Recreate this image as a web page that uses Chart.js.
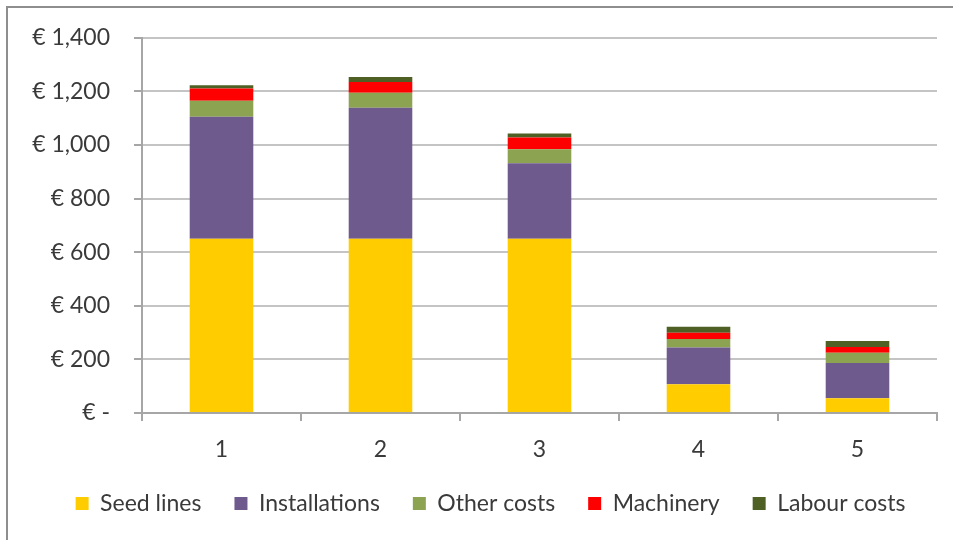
<!DOCTYPE html>
<html>
<head>
<meta charset="utf-8">
<title>Costs per option</title>
<script src="https://cdn.jsdelivr.net/npm/chart.js@4.4.1/dist/chart.umd.min.js"></script>
<style>
    html, body {
        margin: 0;
        padding: 0;
        background: #ffffff;
    }

    .frame {
        position: absolute;
        left: 6px;
        top: 6px;
        width: 1000px;
        height: 600px;
        border-left: 2px solid #8e8e8e;
        border-top: 2px solid #8e8e8e;
    }

    .wrap {
        position: absolute;
        left: 0;
        top: 0;
        width: 953px;
        height: 540px;
    }
</style>
</head>
<body>
<div class="frame"></div>
<div class="wrap">
    <canvas id="cost_chart" width="953" height="540"></canvas>
</div>

<script>
const categories = ["1", "2", "3", "4", "5"];

const seedLines = [650, 650, 650, 107, 55];
const installations = [455, 489, 282, 137, 132];
const otherCosts = [60, 56, 52, 32, 38];
const machinery = [46, 40, 44, 23, 21];
const labourCosts = [12, 19, 15, 23, 23];

const yTicks = [0, 200, 400, 600, 800, 1000, 1200, 1400];

const FONT = "Lato";
const FONT_SIZE = 23;
const TEXT_COLOR = "#3a3a3a";
const GRID_COLOR = "#c4c4c4";
const AXIS_COLOR = "#a6a6a6";

function euro(value) {
    if (value === 0) {
        return "€ -";
    }
    return "€ " + value.toLocaleString("en-US");
}

function makeSet(label, data, color) {
    return {
        label: label,
        data: data,
        backgroundColor: color,
        borderWidth: 0,
        barPercentage: 0.4,
        categoryPercentage: 1
    };
}

// nudge the legend row to the right, under the plot area
const legendShift = {
    id: "legendShift",
    afterLayout: function (chart) {
        chart.legend.left += 22;
        chart.legend.right += 22;
    }
};

new Chart(document.getElementById("cost_chart"), {
    type: "bar",

    data: {
        labels: categories,
        datasets: [
            makeSet("Seed lines", seedLines, "#ffcc00"),
            makeSet("Installations", installations, "#6f5a8e"),
            makeSet("Other costs", otherCosts, "#8ca452"),
            makeSet("Machinery", machinery, "#ff0000"),
            makeSet("Labour costs", labourCosts, "#4e6024")
        ]
    },

    options: {
        responsive: false,
        animation: false,

        layout: {
            padding: {
                top: 37,
                right: 16,
                left: 0,
                bottom: 15
            }
        },

        scales: {
            x: {
                stacked: true,
                offset: true,

                grid: {
                    offset: true,
                    drawOnChartArea: false,
                    drawTicks: true,
                    tickLength: 8,
                    color: AXIS_COLOR,
                    lineWidth: 2
                },

                border: {
                    color: AXIS_COLOR,
                    width: 2
                },

                ticks: {
                    color: TEXT_COLOR,
                    padding: 15,
                    font: {
                        family: FONT,
                        size: FONT_SIZE
                    }
                },

                afterFit: function (scale) {
                    scale.height = 46;
                }
            },

            y: {
                stacked: true,
                min: 0,
                max: 1400,

                afterBuildTicks: function (scale) {
                    scale.ticks = yTicks.map(v => ({ value: v }));
                },

                afterFit: function (scale) {
                    scale.width = 142;
                },

                grid: {
                    color: GRID_COLOR,
                    lineWidth: 2,
                    drawTicks: true,
                    tickLength: 8,
                    tickColor: AXIS_COLOR
                },

                border: {
                    color: AXIS_COLOR,
                    width: 2
                },

                ticks: {
                    color: TEXT_COLOR,
                    padding: 24,
                    font: {
                        family: FONT,
                        size: FONT_SIZE
                    },
                    callback: function (value) {
                        return euro(value);
                    }
                }
            }
        },

        plugins: {
            legend: {
                position: "bottom",
                labels: {
                    boxWidth: 13,
                    boxHeight: 13,
                    padding: 33,
                    color: TEXT_COLOR,
                    font: {
                        family: FONT,
                        size: FONT_SIZE
                    }
                }
            },

            tooltip: {
                enabled: false
            }
        }
    },

    plugins: [legendShift]
});
</script>
</body>
</html>
